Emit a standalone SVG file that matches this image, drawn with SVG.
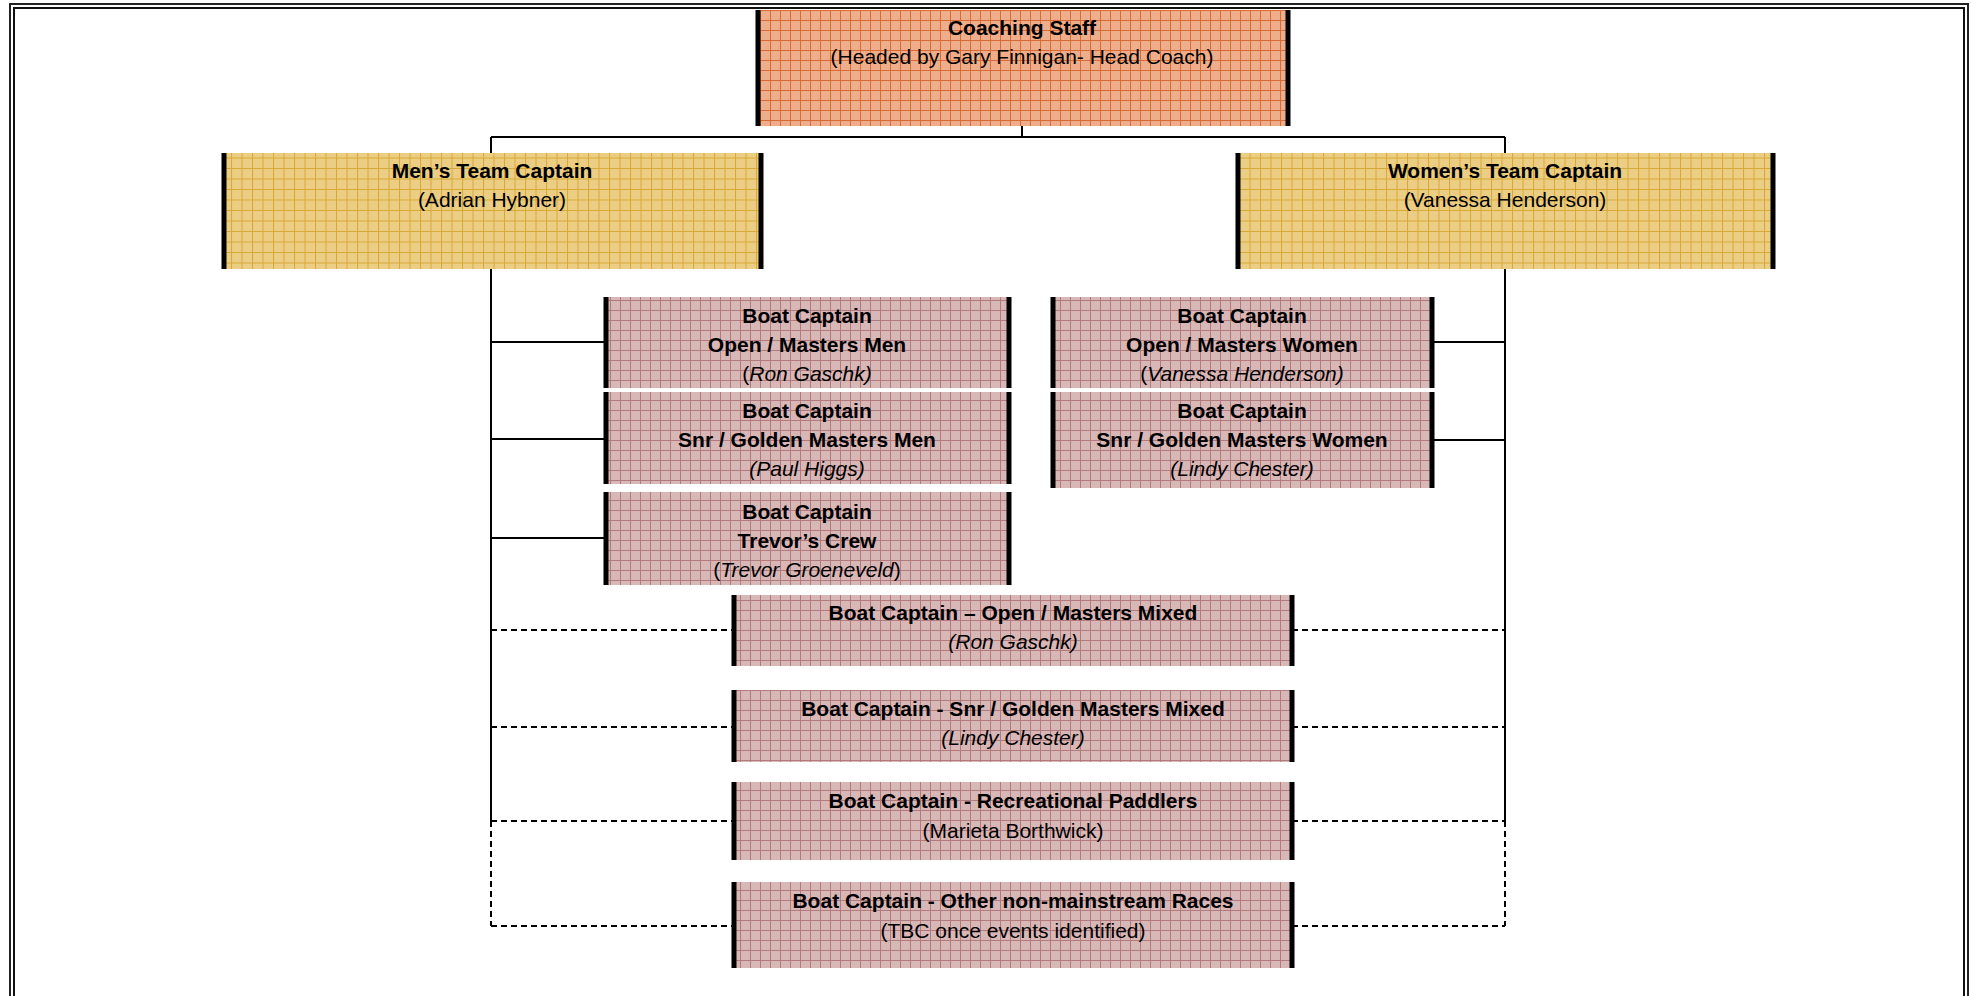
<svg xmlns="http://www.w3.org/2000/svg" width="1971" height="996" viewBox="0 0 1971 996">
<defs>
<pattern id="pOrange" width="10" height="10" patternUnits="userSpaceOnUse">
<rect width="10" height="10" fill="#EEAE8C"/>
<path d="M0 0.5H10M0.5 0V10" stroke="#D86A36" stroke-width="1"/>
</pattern>
<pattern id="pGold" width="10.5" height="10.5" patternUnits="userSpaceOnUse">
<rect width="10.5" height="10.5" fill="#EBCD84"/>
<path d="M0 0.5H10.5M0.5 0V10.5" stroke="#D7A935" stroke-width="1"/>
</pattern>
<pattern id="pPink" width="10" height="10" patternUnits="userSpaceOnUse">
<rect width="10" height="10" fill="#D8B7B7"/>
<path d="M0 0.5H10M0.5 0V10" stroke="#B27A7C" stroke-width="1"/>
</pattern>
</defs>
<style>
text{font-family:"Liberation Sans",Arial,sans-serif;font-size:21px;fill:#000;text-anchor:middle}
.b{font-weight:bold}
.i{font-style:italic}
.bar{stroke:#000;stroke-width:5}
.ln{stroke:#000;stroke-width:2;fill:none}
.dl{stroke:#000;stroke-width:2;fill:none;stroke-dasharray:6 4}
</style>
<rect x="0" y="0" width="1971" height="996" fill="#fff"/>
<g id="frame" fill="none">
<rect x="10" y="4" width="1958" height="1010" stroke="#222" stroke-width="2"/>
<rect x="14" y="8" width="1950" height="1002" stroke="#111" stroke-width="2"/>
</g>
<g id="connectors">
<path class="ln" d="M1022 126V137M491 137H1505M491 137V153M1505 137V153"/>
<path class="ln" d="M491 269V821M1505 269V821"/>
<path class="dl" d="M491 821V926M1505 821V926"/>
<path class="ln" d="M491 342H606M491 439H606M491 538H606M1432 342H1505M1432 440H1505"/>
<path class="dl" d="M491 630H734M1292 630H1505M491 727H734M1292 727H1505M491 821H734M1292 821H1505M491 926H734M1292 926H1505"/>
</g>
<g id="coaching-staff">
<rect x="758" y="10" width="530" height="116" fill="url(#pOrange)"/>
<path class="bar" d="M758 10V126M1288 10V126"/>
<text class="b" x="1022" y="35">Coaching Staff</text>
<text x="1022" y="64">(Headed by Gary Finnigan- Head Coach)</text>
</g>
<g id="mens-captain">
<rect x="224" y="153" width="537" height="116" fill="url(#pGold)"/>
<path class="bar" d="M224 153V269M761 153V269"/>
<text class="b" x="492" y="178">Men’s Team Captain</text>
<text x="492" y="207">(Adrian Hybner)</text>
</g>
<g id="womens-captain">
<rect x="1238" y="153" width="535" height="116" fill="url(#pGold)"/>
<path class="bar" d="M1238 153V269M1773 153V269"/>
<text class="b" x="1505" y="178">Women’s Team Captain</text>
<text x="1505" y="207">(Vanessa Henderson)</text>
</g>
<g id="boat-open-men">
<rect x="606" y="297" width="403" height="91" fill="url(#pPink)"/>
<path class="bar" d="M606 297V388M1009 297V388"/>
<text class="b" x="807" y="323">Boat Captain</text>
<text class="b" x="807" y="352">Open / Masters Men</text>
<text x="807" y="381">(<tspan class="i">Ron Gaschk)</tspan></text>
</g>
<g id="boat-snr-men">
<rect x="606" y="392" width="403" height="92" fill="url(#pPink)"/>
<path class="bar" d="M606 392V484M1009 392V484"/>
<text class="b" x="807" y="418">Boat Captain</text>
<text class="b" x="807" y="447">Snr / Golden Masters Men</text>
<text class="i" x="807" y="476">(Paul Higgs)</text>
</g>
<g id="boat-trevor">
<rect x="606" y="492" width="403" height="93" fill="url(#pPink)"/>
<path class="bar" d="M606 492V585M1009 492V585"/>
<text class="b" x="807" y="519">Boat Captain</text>
<text class="b" x="807" y="548">Trevor’s Crew</text>
<text x="807" y="577">(<tspan class="i">Trevor Groeneveld</tspan>)</text>
</g>
<g id="boat-open-women">
<rect x="1053" y="297" width="379" height="91" fill="url(#pPink)"/>
<path class="bar" d="M1053 297V388M1432 297V388"/>
<text class="b" x="1242" y="323">Boat Captain</text>
<text class="b" x="1242" y="352">Open / Masters Women</text>
<text x="1242" y="381">(<tspan class="i">Vanessa Henderson)</tspan></text>
</g>
<g id="boat-snr-women">
<rect x="1053" y="392" width="379" height="96" fill="url(#pPink)"/>
<path class="bar" d="M1053 392V488M1432 392V488"/>
<text class="b" x="1242" y="418">Boat Captain</text>
<text class="b" x="1242" y="447">Snr / Golden Masters Women</text>
<text class="i" x="1242" y="476">(Lindy Chester)</text>
</g>
<g id="boat-open-mixed">
<rect x="734" y="595" width="558" height="71" fill="url(#pPink)"/>
<path class="bar" d="M734 595V666M1292 595V666"/>
<text class="b" x="1013" y="620">Boat Captain – Open / Masters Mixed</text>
<text class="i" x="1013" y="649">(Ron Gaschk)</text>
</g>
<g id="boat-snr-mixed">
<rect x="734" y="690" width="558" height="72" fill="url(#pPink)"/>
<path class="bar" d="M734 690V762M1292 690V762"/>
<text class="b" x="1013" y="716">Boat Captain - Snr / Golden Masters Mixed</text>
<text class="i" x="1013" y="745">(Lindy Chester)</text>
</g>
<g id="boat-recreational">
<rect x="734" y="782" width="558" height="78" fill="url(#pPink)"/>
<path class="bar" d="M734 782V860M1292 782V860"/>
<text class="b" x="1013" y="808">Boat Captain - Recreational Paddlers</text>
<text x="1013" y="838">(Marieta Borthwick)</text>
</g>
<g id="boat-other">
<rect x="734" y="882" width="558" height="86" fill="url(#pPink)"/>
<path class="bar" d="M734 882V968M1292 882V968"/>
<text class="b" x="1013" y="908">Boat Captain - Other non-mainstream Races</text>
<text x="1013" y="938">(TBC once events identified)</text>
</g>
</svg>
